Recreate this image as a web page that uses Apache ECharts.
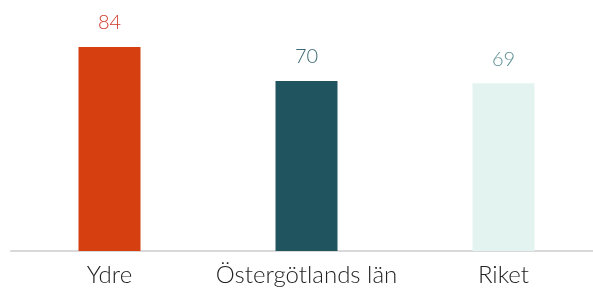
<!DOCTYPE html>
<html lang="sv">
<head>
    <meta charset="UTF-8">
    <title>Ydre</title>
    <style>
        *{ padding:0; margin:0; }
        body{ background:#fff; }
    </style>
    <script src="https://cdn.jsdelivr.net/npm/echarts@6/dist/echarts.min.js"></script>
</head>
<body>
    <div id="main" style="width:593px;height:293px;"></div>
    <script>
    var categories = ['Ydre', 'Östergötlands län', 'Riket'];
    var values = [84, 70, 69];
    var barColors = ['#D63F10', '#20555F', '#E3F3F0'];
    var labelColors = ['#D0392B', '#3E6A73', '#5B8E92'];

    var myChart = echarts.init(document.getElementById('main'));

    var option = {
        animation: false,
        grid: { left: 11, width: 591, top: 8, bottom: 42, outerBoundsMode: 'none' },
        xAxis: {
            type: 'category',
            data: categories,
            axisLine: { lineStyle: { color: '#D9D9D9', width: 2 } },
            axisTick: { show: false },
            axisLabel: {
                interval: 0,
                color: '#222',
                fontSize: 24,
                fontFamily: 'Lato',
                fontWeight: 300,
                margin: 12
            }
        },
        yAxis: {
            type: 'value',
            min: 0,
            max: 100,
            show: false,
            splitLine: { show: false }
        },
        series: [{
            type: 'bar',
            barWidth: 62,
            data: values.map(function (v, i) {
                return {
                    value: v,
                    itemStyle: { color: barColors[i] },
                    label: { color: labelColors[i] }
                };
            }),
            label: {
                show: true,
                position: 'top',
                distance: 14,
                fontSize: 20,
                fontFamily: 'Lato',
                fontWeight: 300
            }
        }]
    };

    myChart.setOption(option);
    </script>
</body>
</html>
